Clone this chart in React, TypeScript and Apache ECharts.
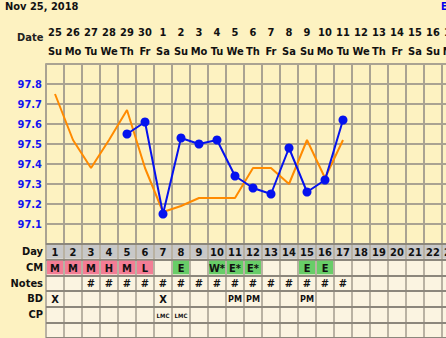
import React, { useEffect, useRef } from "react";
import * as echarts from "echarts";

const cycleDays = ["1","2","3","4","5","6","7","8","9","10","11","12","13","14","15","16","17","18","19","20","21","22","23","24"];
const dates = ["25","26","27","28","29","30","1","2","3","4","5","6","7","8","9","10","11","12","13","14","15","16","17","18"];
const weekdays = ["Su","Mo","Tu","We","Th","Fr","Sa","Su","Mo","Tu","We","Th","Fr","Sa","Su","Mo","Tu","We","Th","Fr","Sa","Su","Mo","Tu"];

const bbt = [null, null, null, null, 97.55, 97.61, 97.15, 97.53, 97.5, 97.52, 97.34, 97.28, 97.25, 97.48, 97.26, 97.32, 97.62];
const overlay = [97.75, 97.52, 97.38, 97.52, 97.67, 97.38, 97.16, 97.19, 97.23, 97.23, 97.23, 97.38, 97.38, 97.3, 97.52, 97.33, 97.52];

const rowLabels = ["Day", "CM", "Notes", "BD", "CP", ""];
const cmText = ["M","M","M","H","M","L","","E","","W*","E*","E*","","","E","E"];
const cmKind = ["p","p","p","p","p","p","","g","","g","g","g","","","g","g"];
const notes = ["","","#","#","#","#","#","#","#","#","#","#","#","#","#","#","#"];
const bd = ["X","","","","","","X","","","","PM","PM","","","PM"];
const cp = ["","","","","","","LMC","LMC"];

const FONT = "'DejaVu Sans Condensed', 'DejaVu Sans', sans-serif";
const BG = "#fdf2c1";
const CELL_BG = "#fbf4e1";
const GRID_LINE = "#aaa392";

export default function App() {
  const ref = useRef<HTMLDivElement>(null);
  useEffect(() => {
    if (!ref.current) return;
    const chart = echarts.init(ref.current, undefined, { renderer: "svg" });

    type Cell = { col: number; row: number; text: string; fill: string | null; size: number };
    const cells: Cell[] = [];
    cycleDays.forEach((d, i) => cells.push({ col: i, row: 0, text: d, fill: "#c8c8c8", size: 11 }));
    cmText.forEach((t, i) => {
      const k = cmKind[i];
      const fill = k === "p" ? "#f37d95" : k === "g" ? "#68cd68" : null;
      if (t || fill) cells.push({ col: i, row: 1, text: t, fill, size: 11 });
    });
    notes.forEach((t, i) => { if (t) cells.push({ col: i, row: 2, text: t, fill: null, size: 11 }); });
    bd.forEach((t, i) => { if (t) cells.push({ col: i, row: 3, text: t, fill: null, size: t === "PM" ? 9 : 11 }); });
    cp.forEach((t, i) => { if (t) cells.push({ col: i, row: 4, text: t, fill: null, size: 6 }); });

    chart.setOption({
      animation: false,
      backgroundColor: BG,
      textStyle: { fontFamily: FONT },
      graphic: [
        { type: "text", left: 5, top: 1, style: { text: "Nov 25, 2018", font: `bold 11px ${FONT}`, fill: "#111" } },
        { type: "text", left: 17, top: 32, style: { text: "Date", font: `bold 11px ${FONT}`, fill: "#222" } },
        { type: "text", left: 441, top: 1, style: { text: "E", font: `bold 10px ${FONT}`, fill: "#0000ee" } },
      ],
      grid: [
        { left: 46, top: 64, width: 18 * 24, height: 180, show: false },
        { left: 46, top: 244, width: 18 * 24, height: 108, show: true, backgroundColor: CELL_BG, borderWidth: 0 },
      ],
      xAxis: [
        {
          gridIndex: 0, type: "category", data: cycleDays, boundaryGap: true,
          axisLine: { show: false }, axisTick: { show: false }, axisLabel: { show: false },
          splitLine: { show: true, lineStyle: { color: GRID_LINE, width: 2 } },
        },
        {
          gridIndex: 0, type: "category", data: weekdays, position: "top", boundaryGap: true,
          axisLine: { show: false }, axisTick: { show: false },
          axisLabel: { interval: 0, margin: 7, fontFamily: FONT, fontWeight: "bold", fontSize: 11, color: "#111" },
          splitLine: { show: false },
        },
        {
          gridIndex: 0, type: "category", data: dates, position: "top", offset: 19, boundaryGap: true,
          axisLine: { show: false }, axisTick: { show: false },
          axisLabel: { interval: 0, margin: 7, fontFamily: FONT, fontWeight: "bold", fontSize: 11, color: "#111" },
          splitLine: { show: false },
        },
        {
          gridIndex: 1, type: "category", data: cycleDays, boundaryGap: true,
          axisLine: { show: false }, axisTick: { show: false }, axisLabel: { show: false },
          splitLine: { show: true, lineStyle: { color: "#b9b2a3", width: 2 } },
        },
      ],
      yAxis: [
        {
          gridIndex: 0, type: "value", min: 97.0, max: 97.9, interval: 0.1,
          axisLine: { show: true, lineStyle: { color: GRID_LINE, width: 2 } },
          axisTick: { show: false },
          axisLabel: {
            margin: 4, fontFamily: FONT, fontWeight: "bold", fontSize: 11, color: "#1414f0",
            formatter: (v: number) => (v > 97.05 && v < 97.85 ? v.toFixed(1) : ""),
          },
          splitLine: { show: true, lineStyle: { color: GRID_LINE, width: 2 } },
        },
        {
          gridIndex: 1, type: "category", data: rowLabels, inverse: true, boundaryGap: true, z: 3,
          axisLine: { show: false }, axisTick: { show: false },
          axisLabel: { margin: 3, fontFamily: FONT, fontWeight: "bold", fontSize: 11, color: "#111" },
          splitLine: { show: true, lineStyle: { color: "#8c877c", width: 2 } },
        },
      ],
      series: [
        {
          name: "Previous", type: "line", xAxisIndex: 0, yAxisIndex: 0, data: overlay,
          symbol: "none", lineStyle: { color: "#ff8a00", width: 2 }, z: 2,
        },
        {
          name: "BBT", type: "line", xAxisIndex: 0, yAxisIndex: 0, data: bbt,
          symbol: "circle", symbolSize: 9, itemStyle: { color: "#0512ee" },
          lineStyle: { color: "#0512ee", width: 2 }, z: 3,
        },
        {
          type: "custom", xAxisIndex: 3, yAxisIndex: 1, z: 4,
          data: cells.map((c) => [c.col, c.row]),
          renderItem: (params: any, api: any) => {
            const c = cells[params.dataIndex];
            const p = api.coord([c.col, c.row]);
            const s = api.size([1, 1]);
            const children: any[] = [];
            if (c.fill) {
              children.push({
                type: "rect",
                shape: { x: p[0] - s[0] / 2 + 1, y: p[1] - s[1] / 2 + 1, width: s[0] - 2, height: s[1] - 2 },
                style: { fill: c.fill },
              });
            }
            if (c.text) {
              children.push({
                type: "text",
                x: p[0], y: p[1] + 0.5,
                style: { text: c.text, font: `bold ${c.size}px ${FONT}`, fill: "#111", align: "center", verticalAlign: "middle" },
              });
            }
            return { type: "group", children };
          },
        },
      ],
    });
    return () => chart.dispose();
  }, []);
  return (
    <div style={{ position: "fixed", left: 0, top: 0, width: 446, height: 338, overflow: "hidden" }}>
      <div ref={ref} style={{ width: 490, height: 338 }} />
    </div>
  );
}
